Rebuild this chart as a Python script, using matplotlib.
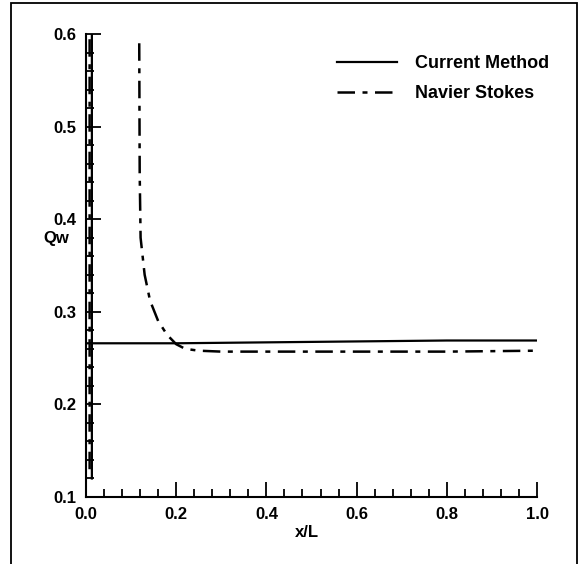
import numpy as np
import matplotlib
matplotlib.use('Agg')
import matplotlib.pyplot as plt
from matplotlib.lines import Line2D
from matplotlib.patches import Rectangle
from matplotlib.ticker import MultipleLocator

#==============================================================================
# Data
#==============================================================================
# Current Method: leading-edge spike, then flat wall heat flux
cm_x = [0.013, 0.013, np.nan, 0.0, 0.1, 0.2, 0.4, 0.6, 0.8, 1.0]
cm_y = [0.12, 0.65, np.nan, 0.266, 0.266, 0.266, 0.267, 0.268, 0.269, 0.269]

# Navier Stokes: spike near x=0, then decay from x~0.12
ns_x = [0.008, 0.008, np.nan, 0.118, 0.119, 0.121, 0.13, 0.142, 0.16, 0.18,
        0.2, 0.22, 0.25, 0.3, 0.4, 0.6, 0.8, 1.0]
ns_y = [0.13, 0.6, np.nan, 0.59, 0.45, 0.38, 0.34, 0.312, 0.29, 0.275,
        0.265, 0.26, 0.258, 0.257, 0.257, 0.257, 0.257, 0.258]

series_labels = ['Current Method', 'Navier Stokes']

#==============================================================================
# Plot
#==============================================================================
plt.rcParams['font.family'] = ['Liberation Sans', 'DejaVu Sans']
plt.rcParams['font.weight'] = 'bold'

fig = plt.figure(figsize=(5.82, 5.64), dpi=100)
ax = fig.add_axes([0.1478, 0.1188, 0.7749, 0.8209])

dashdot = (0, (7, 3, 2, 3))
ax.plot(cm_x, cm_y, color='black', lw=1.6, linestyle='-')
ax.plot(ns_x, ns_y, color='black', lw=1.8, linestyle=dashdot)

ax.set_xlim(0.0, 1.0)
ax.set_ylim(0.1, 0.6)
ax.xaxis.set_major_locator(MultipleLocator(0.2))
ax.xaxis.set_minor_locator(MultipleLocator(0.04))
ax.yaxis.set_major_locator(MultipleLocator(0.1))
ax.yaxis.set_minor_locator(MultipleLocator(0.02))
ax.xaxis.set_major_formatter(matplotlib.ticker.FormatStrFormatter('%.1f'))
ax.yaxis.set_major_formatter(matplotlib.ticker.FormatStrFormatter('%.1f'))

ax.spines['top'].set_visible(False)
ax.spines['right'].set_visible(False)
ax.spines['left'].set_linewidth(1.5)
ax.spines['bottom'].set_linewidth(1.5)
ax.tick_params(which='major', direction='in', length=11, width=1.3,
               labelsize=12, pad=7)
ax.tick_params(which='minor', direction='in', length=6, width=1.3)
for lab in ax.get_xticklabels() + ax.get_yticklabels():
    lab.set_fontweight('bold')

ax.text(-0.066, 0.559, 'Qw', transform=ax.transAxes, fontsize=12,
        fontweight='bold', ha='center', va='center')
ax.text(0.49, -0.076, 'x/L', transform=ax.transAxes, fontsize=12,
        fontweight='bold', ha='center', va='center')

handles = [Line2D([], [], color='black', lw=1.6, linestyle='-'),
           Line2D([], [], color='black', lw=1.8, linestyle=dashdot)]
leg = ax.legend(handles, series_labels, loc='upper left',
                bbox_to_anchor=(0.579, 0.902), bbox_transform=fig.transFigure,
                frameon=False, fontsize=13, handlelength=3.3,
                handletextpad=1.0, labelspacing=0.7, borderpad=0,
                borderaxespad=0)
for t in leg.get_texts():
    t.set_fontweight('bold')

# outer frame around the whole figure
fig.patches.append(Rectangle((11 / 582, -0.01), 566 / 582, 1.01 - 3 / 564,
                             transform=fig.transFigure, fill=False,
                             edgecolor='black', lw=1.3))

plt.savefig('out.png', dpi=100)
